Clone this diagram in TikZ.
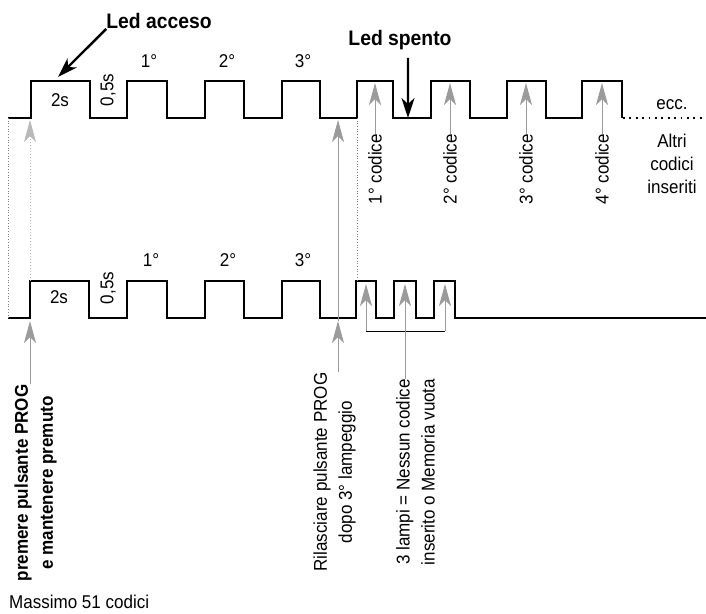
\documentclass[tikz,border=0pt]{standalone}
\usepackage{fontspec}
\setmainfont[FakeStretch=0.92]{Liberation Sans}
\usetikzlibrary{arrows.meta}
\definecolor{guidegray}{RGB}{155,155,155}
\begin{document}
\begin{tikzpicture}[x=1bp, y=-1bp,
    wave/.style={line width=2.4bp, line join=miter},
    guide/.style={draw=guidegray, line width=1bp, -{Stealth[length=22bp,width=12bp,inset=6bp]}},
    ledarrow/.style={line width=2.4bp, -{Stealth[length=20bp,width=13bp,inset=6bp]}},
    fine/.style={draw=gray, line width=0.7bp, dotted},
    txt/.style={inner sep=0pt, font=\fontsize{18.5bp}{25bp}\selectfont},
    big/.style={inner sep=0pt, font=\fontsize{21bp}{25bp}\selectfont\bfseries}]
\useasboundingbox (0,0) rectangle (706,614);
% sequenza con codici in memoria
\draw[wave] (8,118) -- (31,118) -- (31,81) -- (90,81) -- (90,118) -- (127,118) -- (127,81)
    -- (167,81) -- (167,118) -- (205,118) -- (205,81) -- (244,81) -- (244,118) -- (282,118)
    -- (282,81) -- (320,81) -- (320,118) -- (357,118) -- (357,81) -- (393,81) -- (393,118)
    -- (431,118) -- (431,81) -- (470,81) -- (470,118) -- (507,118) -- (507,81) -- (546,81)
    -- (546,118) -- (582,118) -- (582,81) -- (622,81) -- (622,118);
\draw[line width=1.8bp, dash pattern=on 1.8bp off 4.6bp] (623,118) -- (706,118);
% sequenza senza codici
\draw[wave] (8,318) -- (30,318) -- (30,281) -- (89,281) -- (89,318) -- (127,318) -- (127,281)
    -- (167,281) -- (167,318) -- (205,318) -- (205,281) -- (244,281) -- (244,318) -- (282,318)
    -- (282,281) -- (320,281) -- (320,318) -- (356,318) -- (356,281) -- (376,281) -- (376,318)
    -- (394,318) -- (394,281) -- (416,281) -- (416,318) -- (434,318) -- (434,281) -- (455,281)
    -- (455,318) -- (706,318);
\draw[fine] (8,118) -- (8,318);
\draw[fine] (357,118) -- (357,281);

\node[txt] (dueT) at (60,100) {2s};
\node[txt, rotate=90] (mezzoT) at (108,90) {0,5s};
\node[txt] (unoT) at (149,61) {1°};
\node[txt] (secT) at (227,61) {2°};
\node[txt] (terT) at (303,61) {3°};
\node[txt] (dueB) at (59,297) {2s};
\node[txt, rotate=90] (mezzoB) at (108,288) {0,5s};
\node[txt] (unoB) at (151,260) {1°};
\node[txt] (secB) at (228,260) {2°};
\node[txt] (terB) at (303,260) {3°};

\node[big] (acceso) at (159,21) {Led acceso};
\draw[ledarrow] (acceso.south west) -- (58,77);
\node[big] (spento) at (400,40) {Led spento};
\draw[ledarrow] ([xshift=8bp, yshift=-8bp]spento.south) -- (408,118);

\node[txt] (ecc) at (672,105) {ecc.};
\node[txt, align=center, font=\fontsize{18.5bp}{23bp}\selectfont] (altri) at (672,164) {Altri\\codici\\inseriti};

% pressione e rilascio PROG
\coordinate (pushT) at (30,120);
\coordinate (pushB) at (30,321);
\coordinate (relT) at (338,120);
\coordinate (relB) at (338,321);
\draw[guide, draw=guidegray!70, dotted] (30,281) -- (pushT);
\node[txt, rotate=90, align=center, font=\fontsize{18.5bp}{25bp}\selectfont\bfseries] (push) at (35.5,483)
    {premere pulsante PROG\\e mantenere premuto};
\draw[guide] (push.east -| pushB) -- (pushB);
\node[txt, rotate=90, align=center] (rel) at (334.5,472) {Rilasciare pulsante PROG\\dopo 3° lampeggio};
\draw[guide] (rel.east -| relB) -- (relB);
\draw[guide] (relB) -- (relT);

\foreach \x/\n in {375/1,450/2,526/3,602/4}{
    \node[txt, rotate=90, anchor=east] (cod\n) at (\x,134) {\n° codice};
    \draw[guide] (cod\n.east) -- (\x,83);
}

% memoria vuota
\coordinate (b1) at (366,331);
\coordinate (b2) at (405,331);
\coordinate (b3) at (445,331);
\draw[guide] (b1) -- (366,284);
\draw[guide] (b2) -- (405,284);
\draw[guide] (b3) -- (445,284);
\draw[line width=1bp] (b1) -- (b3);
\node[txt, rotate=90, align=center] (vuota) at (415.5,472) {3 lampi = Nessun codice\\inserito o Memoria vuota};
\draw[draw=guidegray, line width=1bp] (vuota.east -| b2) -- (b2);

\node[txt, anchor=base west] (max) at (9,608) {Massimo 51 codici};
\end{tikzpicture}
\end{document}
